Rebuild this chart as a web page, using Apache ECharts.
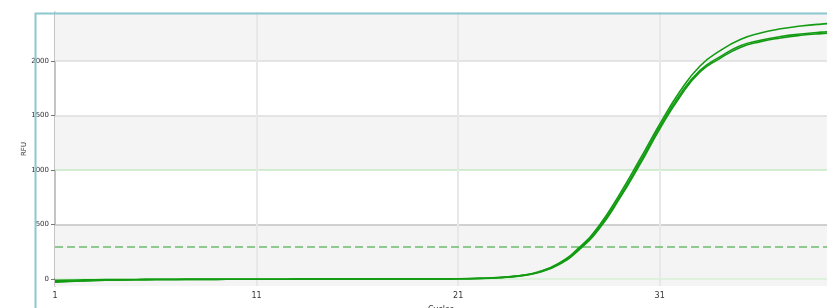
<!DOCTYPE html>
<html>
<head>
<meta charset="utf-8">
<script src="https://cdn.jsdelivr.net/npm/echarts@6/dist/echarts.min.js"></script>
<style>
  html, body { margin: 0; padding: 0; background: #fff; }
  #chart { width: 827px; height: 308px; }
</style>
</head>
<body>
<div id="chart"></div>
<script>
// amplification cycles
var cycles = [1, 2, 3, 4, 5, 6, 7, 8, 9, 10, 11, 12, 13, 14, 15, 16, 17, 18, 19, 20,
  21, 22, 23, 24, 25, 26, 27, 28, 29, 30, 31, 32, 33, 34, 35, 36, 37, 38, 39, 40];
// RFU readings of the three wells
var wellA = [-12, -9, -7, -5, -4, -3, -3, -2, -2, -2, -2, -2, -1, -1, -1, -1, 0, 0, 0, 1,
  2, 6, 14, 30, 66, 145, 288, 492, 775, 1092, 1420, 1720, 1955, 2095, 2198, 2257, 2296, 2321, 2339, 2352];
var wellB = [-25, -18, -13, -9, -7, -5, -4, -3, -3, -2, -2, -2, -1, -1, -1, -1, 0, 0, 0, 1,
  2, 6, 13, 29, 63, 138, 276, 475, 750, 1065, 1395, 1690, 1915, 2040, 2140, 2190, 2225, 2248, 2265, 2278];
var wellC = [-28, -20, -14, -10, -7, -5, -4, -3, -3, -2, -2, -2, -1, -1, -1, -1, 0, 0, 0, 1,
  2, 5, 12, 27, 60, 132, 268, 462, 735, 1045, 1375, 1670, 1900, 2025, 2125, 2178, 2212, 2236, 2252, 2264];
var threshold = 300;
var xTicks = [1, 11, 21, 31];
var yTicks = [0, 500, 1000, 1500, 2000];

var yMin = -64, yMax = 2450;
var green = '#139c13';

function pairs(vals) {
  return cycles.map(function (c, i) { return [c, vals[i]]; });
}

// alternating grey bands between the ticks
var bandEdges = [yMin].concat(yTicks.slice(1)).concat([yMax]);
var bands = [];
for (var i = 0; i < bandEdges.length - 1; i += 2) {
  bands.push([{ yAxis: bandEdges[i] }, { yAxis: bandEdges[i + 1] }]);
}

var gridColors = { 0: '#d6f0d6', 500: '#c4c4c4', 1000: '#c6e9c6', 1500: '#dedede', 2000: '#dedede' };
var gridLines = yTicks.map(function (v) {
  return { yAxis: v, lineStyle: { color: gridColors[v], width: 1.5, type: 'solid' } };
}).concat(xTicks.slice(1).map(function (v) {
  return { xAxis: v, lineStyle: { color: '#e8e8e8', width: 2, type: 'solid' } };
}));

function well(name, vals) {
  return {
    name: name, type: 'line', data: pairs(vals), smooth: true, showSymbol: false,
    lineStyle: { color: green, width: 1.6 }, z: 5, silent: true
  };
}

var chart = echarts.init(document.getElementById('chart'));
chart.setOption({
  animation: false,
  graphic: [{
    type: 'rect', left: 33, top: 11, z: 100,
    shape: { width: 900, height: 400 },
    style: { fill: 'none', stroke: '#8cc8cf', lineWidth: 2 }
  }],
  grid: { left: 55, right: 0, top: 12, bottom: 22, outerBoundsMode: 'none' },
  xAxis: {
    type: 'value', min: 1, max: 39.3,
    name: 'Cycles', nameLocation: 'middle', nameGap: 20,
    nameTextStyle: { fontSize: 8, color: '#333', fontFamily: 'DejaVu Sans' },
    axisLine: { lineStyle: { color: '#8a8a8a', width: 2 } },
    axisTick: { customValues: xTicks, length: 4, lineStyle: { color: '#8a8a8a' } },
    axisLabel: { customValues: xTicks, fontSize: 8, color: '#333', margin: 6, fontFamily: 'DejaVu Sans' },
    splitLine: { show: false }
  },
  yAxis: {
    type: 'value', min: yMin, max: yMax,
    name: 'RFU', nameLocation: 'middle', nameGap: 27, nameRotate: 90, nameMoveOverlap: false,
    nameTextStyle: { fontSize: 7, color: '#333', fontFamily: 'DejaVu Sans' },
    axisLine: { show: true, lineStyle: { color: '#b0b0b0', width: 1.5 } },
    axisTick: { show: true, customValues: yTicks, length: 4, lineStyle: { color: '#777' } },
    axisLabel: {
      customValues: yTicks, fontSize: 7, color: '#333', margin: 6, fontFamily: 'DejaVu Sans',
      formatter: function (v) { return String(v); }
    },
    splitLine: { show: false }
  },
  series: [
    {
      type: 'line', data: [], silent: true, z: 1,
      markArea: { silent: true, itemStyle: { color: '#f4f4f4' }, data: bands },
      markLine: { silent: true, symbol: 'none', label: { show: false }, data: gridLines }
    },
    {
      type: 'line', data: [], silent: true, z: 2,
      markLine: {
        silent: true, symbol: 'none', label: { show: false },
        lineStyle: { color: '#6cba6c', width: 1.5, type: [8, 4] },
        data: [{ yAxis: threshold }]
      }
    },
    well('A', wellA),
    well('B', wellB),
    well('C', wellC)
  ]
});
</script>
</body>
</html>
